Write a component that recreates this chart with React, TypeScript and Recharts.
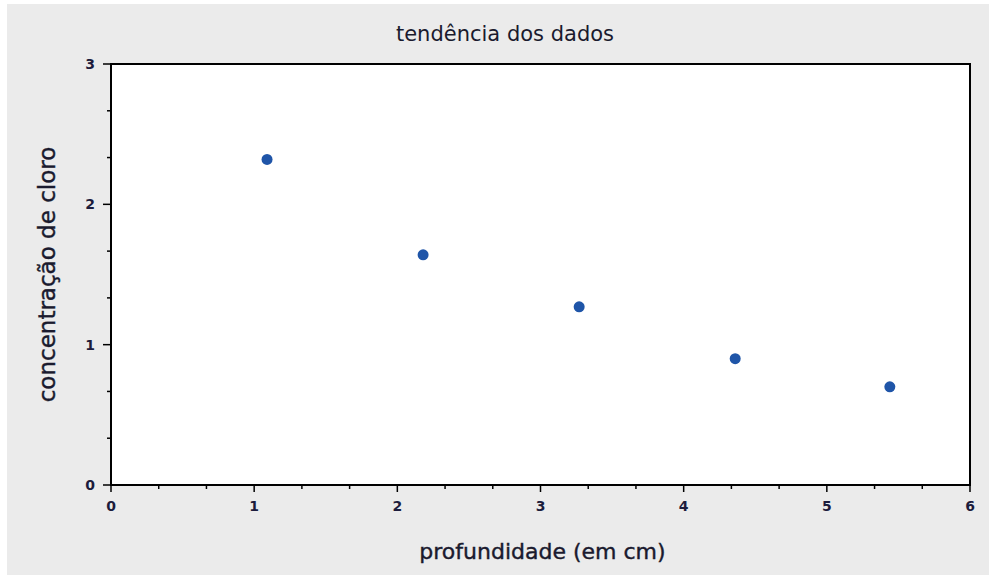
import React from "react";
import {
  ScatterChart,
  Scatter,
  XAxis,
  YAxis,
  ReferenceArea,
  Label,
} from "recharts";

// profundidade (cm) x concentração de cloro
const depths = [1.09, 2.18, 3.27, 4.36, 5.44];
const chlorine = [2.32, 1.64, 1.27, 0.9, 0.7];

const xMajor = [0, 1, 2, 3, 4, 5, 6];
const yMajor = [0, 1, 2, 3];
const minorSteps = 3;

const title = "tendência dos dados";
const xTitle = "profundidade (em cm)";
const yTitle = "concentração de cloro";

const withMinor = (major: number[]) => {
  const out: number[] = [];
  major.forEach((v, i) => {
    out.push(v);
    if (i < major.length - 1) {
      for (let k = 1; k < minorSteps; k++) out.push(v + (k * (major[i + 1] - v)) / minorSteps);
    }
  });
  return out;
};

const data = depths.map((d, i) => ({ x: d, y: chlorine[i] }));

const isMajor = (v: number) => Math.abs(v - Math.round(v)) < 1e-6;
const font = "'DejaVu Sans', Verdana, sans-serif";
const tickColor = "#1c1c3c";
const textColor = "#1a1a2e";

const XTick = (props: any) => {
  const { x, y, payload } = props;
  const major = isMajor(payload.value);
  return (
    <g>
      <line x1={x} y1={y} x2={x} y2={y + (major ? 7 : 4)} stroke="#000" strokeWidth={1.5} />
      {major && (
        <text x={x} y={y + 21} textAnchor="middle" dominantBaseline="central" fontFamily={font} fontWeight="bold" fontSize={14} fill={tickColor}>
          {Math.round(payload.value)}
        </text>
      )}
    </g>
  );
};

const YTick = (props: any) => {
  const { x, y, payload } = props;
  const major = isMajor(payload.value);
  return (
    <g>
      <line x1={x} y1={y} x2={x - (major ? 8 : 4)} y2={y} stroke="#000" strokeWidth={1.5} />
      {major && (
        <text x={x - 21} y={y} textAnchor="middle" dominantBaseline="central" fontFamily={font} fontWeight="bold" fontSize={14} fill={tickColor}>
          {Math.round(payload.value)}
        </text>
      )}
    </g>
  );
};

const Dot = (props: any) => <circle cx={props.cx} cy={props.cy} r={5.5} fill="#1f55a8" />;

export default function App() {
  return (
    <div style={{ position: "absolute", left: 0, top: 0, width: 989, height: 575, background: "#fff" }}>
      <div style={{ position: "absolute", left: 7, top: 4, right: 0, bottom: 0, background: "#ebebeb" }} />
      <div style={{ position: "absolute", left: 0, top: 0 }}>
        <ScatterChart width={989} height={575} margin={{ top: 64, right: 19, left: 0, bottom: 0 }}>
          <XAxis
            type="number"
            dataKey="x"
            domain={[0, 6]}
            ticks={withMinor(xMajor)}
            interval={0}
            tickSize={0}
            tickMargin={0}
            tickLine={false}
            axisLine={{ stroke: "#000", strokeWidth: 2 }}
            tick={<XTick />}
            height={90}
            allowDataOverflow
          >
            <Label
              content={(p: any) => {
                const vb = p.viewBox;
                return (
                  <text x={vb.x + vb.width / 2 + 2} y={551} textAnchor="middle" dominantBaseline="central" fontFamily={font} fontSize={22} fill={textColor} stroke={textColor} strokeWidth={0.4}>
                    {xTitle}
                  </text>
                );
              }}
            />
          </XAxis>
          <YAxis
            type="number"
            dataKey="y"
            domain={[0, 3]}
            ticks={withMinor(yMajor)}
            interval={0}
            tickSize={0}
            tickMargin={0}
            tickLine={false}
            axisLine={{ stroke: "#000", strokeWidth: 2 }}
            tick={<YTick />}
            width={111}
            allowDataOverflow
          >
            <Label
              content={(p: any) => {
                const vb = p.viewBox;
                const cy = vb.y + vb.height / 2;
                return (
                  <text x={47} y={cy} transform={`rotate(-90 47 ${cy})`} textAnchor="middle" dominantBaseline="central" fontFamily={font} fontSize={23} fill={textColor} stroke={textColor} strokeWidth={0.4}>
                    {yTitle}
                  </text>
                );
              }}
            />
          </YAxis>
          <ReferenceArea x1={0} x2={6} y1={0} y2={3} fill="#fff" fillOpacity={1} stroke="#000" strokeWidth={2} ifOverflow="visible" />
          <Scatter data={data} shape={<Dot />} isAnimationActive={false} />
          <text x={505} y={34} textAnchor="middle" dominantBaseline="central" fontFamily={font} fontSize={21} fill={textColor}>
            {title}
          </text>
        </ScatterChart>
      </div>
    </div>
  );
}
